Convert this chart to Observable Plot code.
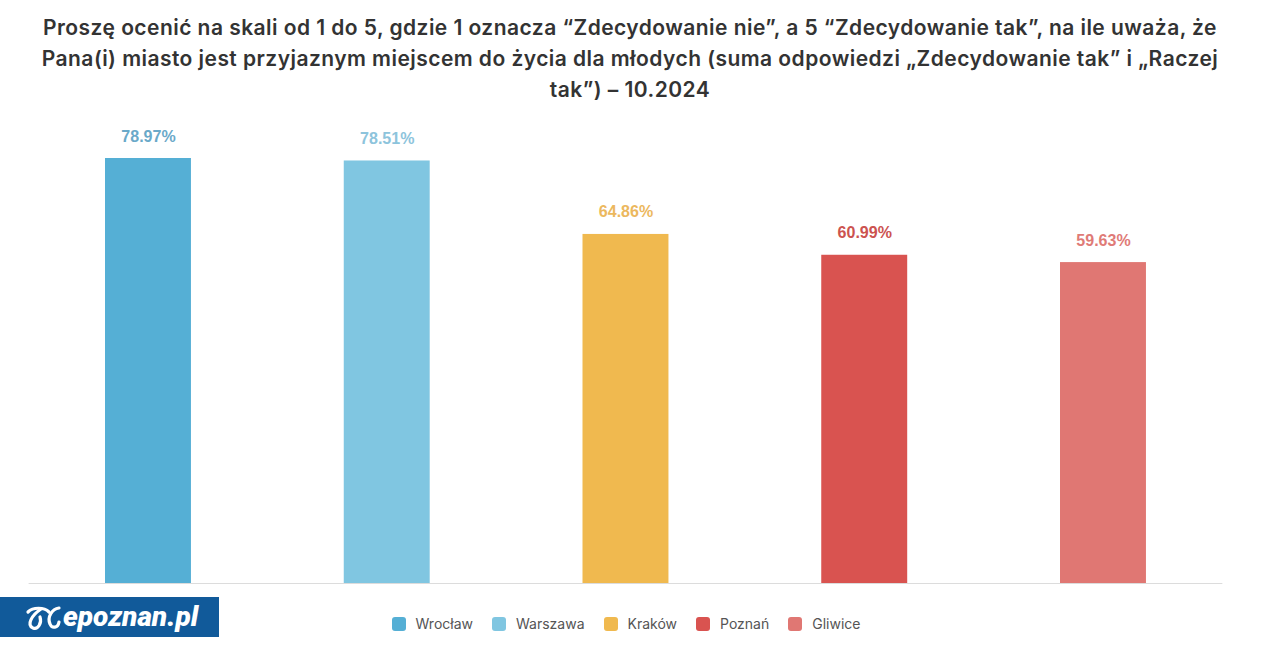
<!DOCTYPE html>
<html>
<head>
<meta charset="utf-8">
<script src="https://cdn.jsdelivr.net/npm/d3@7"></script>
<script src="https://cdn.jsdelivr.net/npm/@observablehq/plot@0.6"></script>
<style>
  html, body { margin: 0; padding: 0; background: #fff; }
  body { width: 1280px; height: 648px; position: relative; overflow: hidden; font-family: Roboto, "Noto Sans", sans-serif; }
  #title { position: absolute; left: 0; top: 12px; width: 1260px; text-align: center; font-family: Inter, Roboto, sans-serif; font-size: 21px; font-weight: 600; line-height: 31px; color: #333; white-space: nowrap; letter-spacing: 0.45px; }
  #chart { position: absolute; left: 0; top: 115px; }
  #logo { position: absolute; left: 0; top: 597px; width: 219px; height: 40px; background: #115a9a; }
  #logo svg { display: block; }
  #legend { position: absolute; left: 0; top: 607px; width: 1252px; display: flex; justify-content: center; }
  #legend .lg-swatches { font-family: Inter, Roboto, sans-serif !important; font-size: 14px !important; color: #555 !important; }
  #legend .lg-swatch { margin-right: 19px !important; }
  #legend .lg-swatch:last-child { margin-right: 0 !important; }
  #legend .lg-swatch > svg { margin-right: 10px !important; }
  #legend svg rect { rx: 3px; ry: 3px; }
</style>
</head>
<body>
<div id="title">Proszę ocenić na skali od 1 do 5, gdzie 1 oznacza “Zdecydowanie nie”, a 5 “Zdecydowanie tak”, na ile uważa, że<br>Pana(i) miasto jest przyjaznym miejscem do życia dla młodych (suma odpowiedzi „Zdecydowanie tak” i „Raczej<br>tak”) – 10.2024</div>
<div id="chart"></div>
<div id="logo">
  <svg width="219" height="40" viewBox="0 0 219 40">
    <path d="M28 15 C 33 10, 44 10, 49 15" stroke="#fff" stroke-width="3.2" fill="none" stroke-linecap="round"/>
    <path d="M41 12 C 32 18, 26 28, 33 31 C 38 33, 42 26, 40 20" stroke="#fff" stroke-width="3.2" fill="none" stroke-linecap="round"/>
    <path d="M59 11 C 52 12, 47 20, 50 27 C 52 32, 58 31, 59 25" stroke="#fff" stroke-width="3.2" fill="none" stroke-linecap="round"/>
    <text x="63" y="29" fill="#fff" font-family="Roboto, sans-serif" font-weight="900" font-style="italic" font-size="28" letter-spacing="0">epoznan.pl</text>
  </svg>
</div>
<div id="legend"></div>
<script>
const cities = ["Wrocław", "Warszawa", "Kraków", "Poznań", "Gliwice"];
const values = [78.97, 78.51, 64.86, 60.99, 59.63];
const barColors = ["#55afd5", "#80c6e1", "#f0b94f", "#d95350", "#e07773"];
const labelColors = ["#6aa9c9", "#8dc4dc", "#ecb85e", "#cc5350", "#df7b77"];

const data = cities.map((c, i) => ({city: c, value: values[i], label: values[i].toFixed(2) + "%", lc: labelColors[i]}));

const chart = Plot.plot({
  width: 1280,
  height: 475,
  marginTop: 0,
  marginLeft: 28.6,
  marginRight: 57.65,
  marginBottom: 7,
  x: {domain: cities, paddingInner: 0.64, paddingOuter: 0.32, round: false, axis: null},
  y: {domain: [0, 86.96], axis: null},
  color: {domain: cities, range: barColors},
  marks: [
    Plot.barY(data, {x: "city", y: "value", fill: "city"}),
    Plot.ruleY([0], {stroke: "#dcdcdc", strokeWidth: 1}),
    Plot.text(data, {x: "city", y: "value", text: "label", fill: "lc", dy: -17, lineAnchor: "bottom",
      fontSize: 16, fontWeight: "bold", fontFamily: "'Liberation Sans', Arial, sans-serif"})
  ],
  style: {background: "transparent"}
});
document.getElementById("chart").appendChild(chart);

const legend = Plot.legend({
  color: {type: "categorical", domain: cities, range: barColors},
  swatchSize: 14,
  className: "lg"
});
document.getElementById("legend").appendChild(legend);
</script>
</body>
</html>
